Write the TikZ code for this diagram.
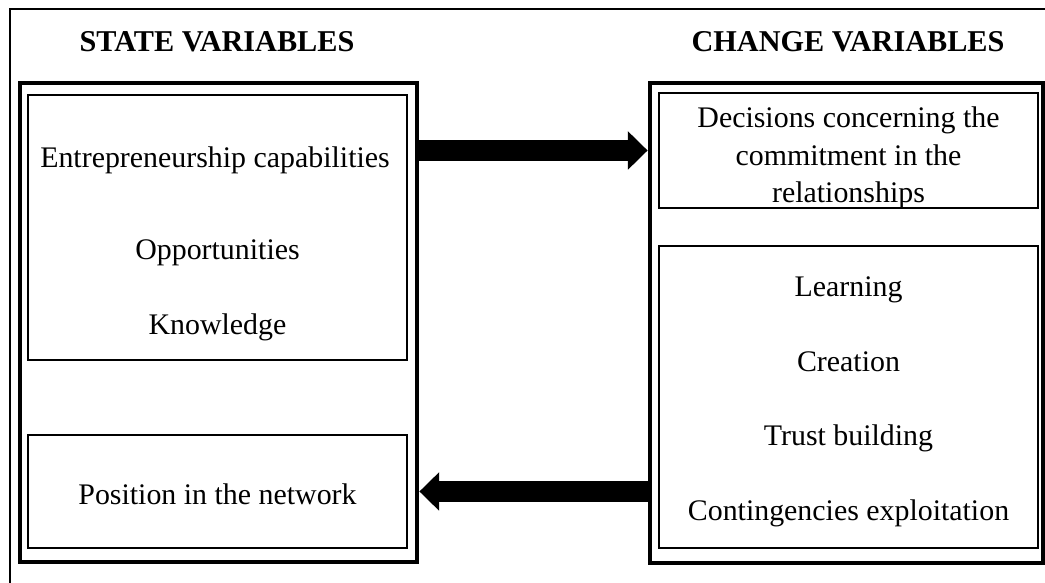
\documentclass[tikz,border=0pt]{standalone}
\usepackage{fontspec}
\setmainfont{Liberation Serif}
\usetikzlibrary{arrows.meta,positioning}

\begin{document}
\begin{tikzpicture}[x=0.01cm, y=-0.01cm,
    font=\fontsize{8.5}{10.5}\selectfont,
    panel/.style={draw, line width=1.3pt, inner sep=0pt},
    box/.style={draw, line width=0.5pt, inner sep=0pt, minimum width=3.79cm},
    heading/.style={anchor=base, font=\fontsize{8.6}{10.5}\selectfont\bfseries},
    label/.style={anchor=base},
    bigarrow/.style={line width=5.8pt, -{Triangle[length=5.6pt, width=10.6pt]}}]
  \useasboundingbox (0,0) rectangle (1045,583);
  % page frame (top and left edge)
  \draw[line width=0.45pt] (10,583) -- (10,9) -- (1045,9);
  % headings
  \node[heading] (statehd) at (217,52) {STATE VARIABLES};
  \node[heading] (changehd) at (848,52) {CHANGE VARIABLES};
  % outer panels
  \node[panel, minimum width=3.97cm, minimum height=4.79cm] (state) at (218.5,322.5) {};
  \node[panel, minimum width=3.93cm, minimum height=4.80cm] (change) at (846.5,323) {};
  % inner boxes
  \node[box, minimum height=2.65cm] (capab) at (217.5,227.5) {};
  \node[box, minimum height=1.13cm] (posbox) at (217.5,491.5) {};
  \node[box, minimum height=1.15cm] (decide) at (848.5,150.5) {};
  \node[box, minimum height=3.02cm] (actions) at (848.5,397) {};
  % state variables
  \node[label] (entre) at (215,168) {Entrepreneurship capabilities};
  \node[label] (oppo) at (217.5,260) {Opportunities};
  \node[label] (know) at (217.5,335) {Knowledge};
  \node[label] (posi) at (217.5,505) {Position in the network};
  % change variables
  \node[label] (dec1) at (848.5,128) {Decisions concerning the};
  \node[label] (dec2) at (848.5,165.5) {commitment in the};
  \node[label] (dec3) at (848.5,203) {relationships};
  \node[label] (learn) at (848.5,297) {Learning};
  \node[label] (creat) at (848.5,372) {Creation};
  \node[label] (trust) at (848.5,446) {Trust building};
  \node[label] (conti) at (848.5,521) {Contingencies exploitation};
  % arrows between the panels
  \draw[bigarrow] (state.east |- decide.center) -- (change.west |- decide.center);
  \draw[bigarrow] (change.west |- posbox.center) -- (state.east |- posbox.center);
\end{tikzpicture}
\end{document}
